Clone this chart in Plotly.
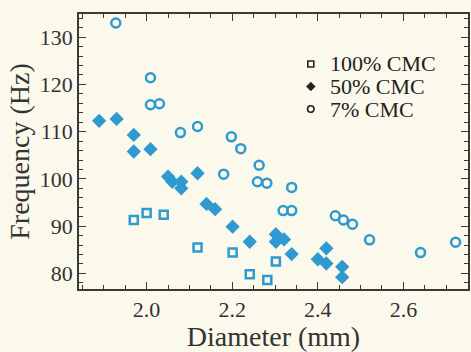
import plotly.graph_objects as go

# 100% CMC (squares)
d100 = [1.970, 2.000, 2.040, 2.119, 2.201, 2.241, 2.282, 2.302]
f100 = [91.3, 92.8, 92.4, 85.5, 84.4, 79.8, 78.6, 82.5]

# 50% CMC (diamonds)
d50 = [1.889, 1.930, 1.970, 1.970, 2.009, 2.050, 2.060, 2.081, 2.081, 2.119,
       2.140, 2.160, 2.201, 2.241, 2.302, 2.302, 2.321, 2.339, 2.400, 2.420,
       2.420, 2.457, 2.457]
f50 = [112.3, 112.7, 109.3, 105.8, 106.3, 100.5, 99.4, 99.4, 98.0, 101.2,
       94.7, 93.6, 89.9, 86.7, 88.3, 86.7, 87.2, 84.1, 83.0, 85.3,
       82.1, 81.4, 79.2]

# 7% CMC (circles)
d7 = [1.928, 2.009, 2.009, 2.030, 2.079, 2.119, 2.180, 2.198, 2.220, 2.263,
      2.259, 2.281, 2.339, 2.319, 2.339, 2.441, 2.460, 2.481, 2.521, 2.640,
      2.722]
f7 = [133.0, 121.4, 115.7, 115.9, 109.8, 111.1, 101.0, 108.9, 106.4, 102.9,
      99.4, 99.1, 98.2, 93.3, 93.3, 92.2, 91.3, 90.4, 87.1, 84.4,
      86.6]

legend_labels = ["100% CMC", "50% CMC", "7% CMC"]

BLUE = "#2e9ad0"
BG = "#fbf9ec"
AX = "#3a3a36"
FONT = "Liberation Serif"

fig = go.Figure()
fig.add_trace(go.Scatter(x=d100, y=f100, mode="markers", name=legend_labels[0],
                         marker=dict(symbol="square-open", size=8, color=BLUE,
                                     line=dict(width=2.5, color=BLUE))))
fig.add_trace(go.Scatter(x=d50, y=f50, mode="markers", name=legend_labels[1],
                         marker=dict(symbol="diamond", size=11, color=BLUE,
                                     line=dict(width=0))))
fig.add_trace(go.Scatter(x=d7, y=f7, mode="markers", name=legend_labels[2],
                         marker=dict(symbol="circle-open", size=9, color=BLUE,
                                     line=dict(width=2.5, color=BLUE))))

# manual legend (paper coords)
L, R, T, B = 79, 470, 14, 289
W, H = R - L, B - T
def px(x):
    return (x - L) / W
def py(y):
    return (B - y) / H

rows = [64, 86.5, 109]
mx = 312
# square
s = 3
fig.add_shape(type="rect", xref="paper", yref="paper",
              x0=px(mx - s), x1=px(mx + s), y0=py(rows[0] + s), y1=py(rows[0] - s),
              line=dict(color="#222", width=1.6), fillcolor="rgba(0,0,0,0)")
# diamond
d = 4.5
fig.add_shape(type="path", xref="paper", yref="paper",
              path=f"M {px(mx)} {py(rows[1]-d)} L {px(mx+d)} {py(rows[1])} L {px(mx)} {py(rows[1]+d)} L {px(mx-d)} {py(rows[1])} Z",
              line=dict(color="#222", width=0.5), fillcolor="#222")
# circle
c = 3.3
fig.add_shape(type="circle", xref="paper", yref="paper",
              x0=px(mx - c), x1=px(mx + c), y0=py(rows[2] + c), y1=py(rows[2] - c),
              line=dict(color="#222", width=1.6), fillcolor="rgba(0,0,0,0)")
for lab, ry in zip(legend_labels, rows):
    fig.add_annotation(xref="paper", yref="paper", x=px(330), y=py(ry),
                       xanchor="left", yanchor="middle", text=lab, showarrow=False,
                       borderpad=0,
                       font=dict(family=FONT, size=22, color="#222"))

axcommon = dict(showline=True, linecolor=AX, linewidth=1.5, mirror="ticks",
                ticks="inside", ticklen=7, tickwidth=1.3, tickcolor=AX,
                showgrid=False, zeroline=False,
                tickfont=dict(family=FONT, size=22, color="#333"))
fig.update_xaxes(range=[1.842, 2.751], tickvals=[2.0, 2.2, 2.4, 2.6],
                 ticktext=["2.0", "2.2", "2.4", "2.6"],
                 minor=dict(dtick=0.05, tick0=2.0, ticks="inside", ticklen=4,
                            tickcolor=AX, tickwidth=1.2),
                 title=dict(text="Diameter (mm)", font=dict(family=FONT, size=28, color="#333"),
                            standoff=4),
                 **axcommon)
fig.update_yaxes(range=[76.7, 134.9], tickvals=[80, 90, 100, 110, 120, 130],
                 minor=dict(dtick=2, tick0=80, ticks="inside", ticklen=4,
                            tickcolor=AX, tickwidth=1.2),
                 title=dict(text="Frequency (Hz)", font=dict(family=FONT, size=28, color="#333"),
                            standoff=2),
                 **axcommon)
fig.update_layout(width=471, height=352, showlegend=False,
                  margin=dict(l=L, r=471 - R, t=T, b=352 - B),
                  paper_bgcolor=BG, plot_bgcolor=BG)
fig.write_html("out.html", config={"displayModeBar": False},
               post_script="document.body.style.margin='0';document.body.style.background='" + BG + "';")
